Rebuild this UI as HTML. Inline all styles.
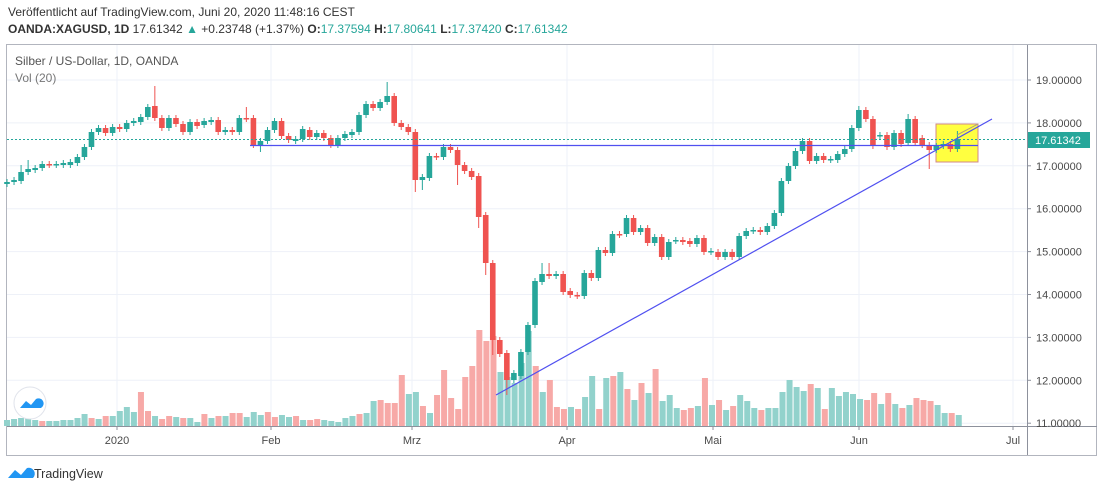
<!DOCTYPE html>
<html><head><meta charset="utf-8"><style>
body{margin:0;background:#fff;width:1100px;height:492px;overflow:hidden;font-family:"Liberation Sans",sans-serif}
svg{position:absolute;left:0;top:0}
</style></head><body>
<svg id="s" width="1100" height="492" xmlns="http://www.w3.org/2000/svg" font-family="Liberation Sans, sans-serif">
<text x="8" y="16" font-size="12" fill="#333">Veröffentlicht auf TradingView.com, Juni 20, 2020 11:48:16 CEST</text>
<text x="8" y="33" font-size="12" fill="#333"><tspan font-weight="bold">OANDA:XAGUSD, 1D</tspan> 17.61342 <tspan fill="#26a69a">▲</tspan> +0.23748 (+1.37%) <tspan font-weight="bold">O:</tspan><tspan fill="#26a69a">17.37594</tspan> <tspan font-weight="bold">H:</tspan><tspan fill="#26a69a">17.80641</tspan> <tspan font-weight="bold">L:</tspan><tspan fill="#26a69a">17.37420</tspan> <tspan font-weight="bold">C:</tspan><tspan fill="#26a69a">17.61342</tspan></text>
<rect x="6.5" y="44.5" width="1090" height="411" fill="#fff" stroke="#b2b5be"/>
<g id="grid" stroke="#eef1f8" stroke-width="1"></g>
<rect x="936" y="124" width="42" height="38" fill="#ffff40" stroke="#d08a8a"/>
<g id="vol"></g>
<g id="cdl"></g>
<line x1="7" y1="139.5" x2="1027" y2="139.5" stroke="#26a69a" stroke-dasharray="2,2" stroke-width="1"/>
<line x1="250" y1="145.5" x2="978" y2="145.5" stroke="#5050f0" stroke-width="1.2"/>
<line x1="496" y1="395" x2="992" y2="119" stroke="#5050f0" stroke-width="1.2"/>
<line x1="957" y1="135" x2="978" y2="124" stroke="#b0a080" stroke-width="1"/>
<line x1="1027.5" y1="45" x2="1027.5" y2="455" stroke="#8d919c"/>
<line x1="7" y1="426.5" x2="1097" y2="426.5" stroke="#8d919c"/>
<g id="axis" font-size="11" fill="#4a4a4a"></g>
<rect x="1028" y="132" width="62" height="16" fill="#26a69a"/>
<text x="1035" y="144" font-size="11" fill="#fff">17.61342</text>
<text x="15" y="65" font-size="12" fill="#555">Silber / US-Dollar, 1D, OANDA</text>
<text x="15" y="82" font-size="12" fill="#777">Vol (20)</text>
<circle cx="30" cy="403" r="16" fill="#fff" stroke="#e0e3eb"/>
<path d="M20 408 l6 -7 l5 4 l5 -6 a5 5 0 0 1 5 9 z" fill="#2196f3"/>
<path d="M8 478 l7 -8 l6 5 l6 -7 a6 6 0 0 1 6 10 z" fill="#2196f3"/>
<text x="34" y="478" font-size="12.5" fill="#333">TradingView</text>
</svg>
<script>
var NS="http://www.w3.org/2000/svg";
function el(p,t,a){var e=document.createElementNS(NS,t);for(var k in a)e.setAttribute(k,a[k]);p.appendChild(e);return e;}
var grid=document.getElementById('grid'),axis=document.getElementById('axis');
var prices=[19,18,17,16,15,14,13,12,11];
prices.forEach(function(p){var y=80+(19-p)*42.9;el(grid,'line',{x1:7,x2:1027,y1:y,y2:y});
el(axis,'line',{x1:1027,x2:1031,y1:y,y2:y,stroke:'#8d919c'});
var t=el(axis,'text',{x:1036,y:y+4});t.textContent=p.toFixed(5);});
var months=[[117,'2020'],[271,'Feb'],[412,'Mrz'],[567,'Apr'],[713,'Mai'],[859,'Jun'],[1013,'Jul']];
months.forEach(function(m){el(grid,'line',{x1:m[0],x2:m[0],y1:45,y2:426});
el(axis,'line',{x1:m[0],x2:m[0],y1:426,y2:430,stroke:'#8d919c'});
var t=el(axis,'text',{x:m[0],y:444,'text-anchor':'middle'});t.textContent=m[1];});
var C=[[184,182],[182,180],[181,172,165],[172,169,160],[170,168],[168,164],[164,165],[165,164],[165,163],[165,162],
[163,157],[157,147],[147,132],[132,128],[128,133],[133,127],[127,129],[129,123],[123,121],[122,117],
[117,107],[106,118,86],[118,128],[128,118],[118,124],[124,132],[132,122],[122,126],[125,121],[122,120],
[120,132],[132,130],[130,132],[132,118],[118,119,107],[118,145],[145,141,null,152],[141,130],[130,121],[121,136],
[136,140],[141,139],[139,129],[130,137],[137,133],[133,138],[138,145],[145,138],[138,134],[135,132],
[132,115],[115,104],[104,108],[108,102],[102,96,82],[96,123],[123,127],[127,132],[132,180,null,192],[180,177,null,190],
[178,156],[156,157],[157,147],[147,150],[150,165,null,185],[165,171],[171,177],[176,217,null,228],[215,263,null,275],[263,340,null,355],
[340,354],[353,380,null,395],[380,373],[376,352],[352,325],[325,281],[282,274,263],[274,276,263],[276,274],[274,292],
[291,295],[295,296],[296,273],[273,278],[278,250],[250,253],[253,234],[234,235],
[234,218],[218,232],[232,228],[228,243],[243,237],[237,257],[257,242],[241,240],[240,242],[241,244],
[244,238],[238,252],[252,251],[252,257],[257,252],[252,257],[257,236],[236,231],[231,230],[230,232],
[232,226],[226,213],[213,181],[181,166],[166,151],[151,141,138],[141,161],[161,156],[156,160],[160,159],
[160,154],[154,149],[149,128],[128,110,106],[110,119],[119,146],[136,135],[135,147],[147,133],[133,144],
[143,119,114],[119,143],[138,145],[145,150,null,169],[150,146],[146,144],[144,149],[149,139,131]];
var cg=document.getElementById('cdl');
C.forEach(function(d,i){var x=7+i*7.04;var o=d[0],c=d[1];var g=c<o;var col=g?'#26a69a':'#ef5350';
var top=Math.min(o,c),bot=Math.max(o,c);var h=d[2]||top-3,l=d[3]||bot+3;
el(cg,'line',{x1:x,x2:x,y1:h,y2:l,stroke:col,'stroke-width':1});
el(cg,'rect',{x:x-2.8,y:top,width:5.6,height:Math.max(1.5,bot-top),fill:col});});
var V="6g7g8g8g6g5r5g5g6g6g8g12g8r7g10r10g15g19g14g34r15r10g7r10r9g8r8g4g12r8g10r10g13r13r9g14g11g14r9r11g9g10r6g6r7r6g5g4g8g10g12r13g25g26r23r23r51r32g34g20r13g31r56r28r17r49r60r96r85r90r54g49g43g63g95g60r34g46r19r17r19g17r29g50g17r48g50r54g37r26g43r33g57r25g31g18g16r18r20g48r21g26r16g20r31g25g18g16r18g18g34g46g39g35g42r38g17r38g30g34g32g27g26r33r22g33r22g18r21g28r26r25r21g13g13r11g";
var vg=document.getElementById('vol');var re=/(\d+)([gr])/g,m,k=0;
while((m=re.exec(V))){var h=+m[1];var x=7+k*7.05;
el(vg,'rect',{x:x-3,y:426-h,width:6,height:h,fill:m[2]=='g'?'#92d2cc':'#f7a9a7'});k++;}
</script>
</body></html>
